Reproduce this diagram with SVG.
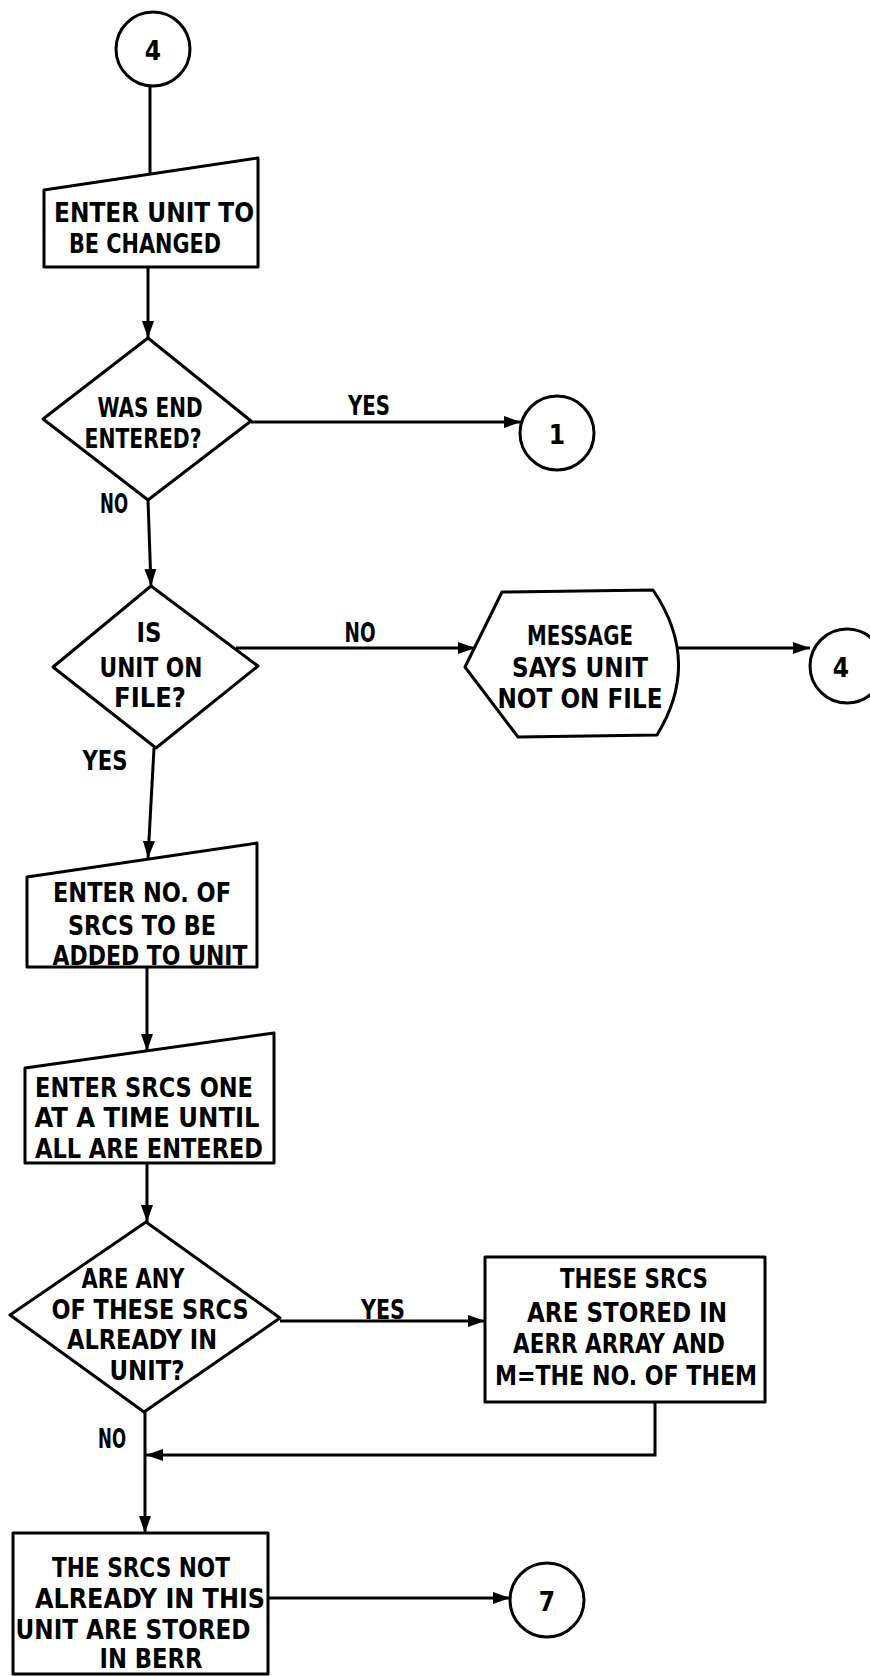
<svg xmlns="http://www.w3.org/2000/svg" width="870" height="1676" viewBox="0 0 870 1676">
<defs>
<marker id="arr" markerUnits="userSpaceOnUse" markerWidth="18" markerHeight="14" refX="17" refY="7" orient="auto">
<path d="M0,1 L17,7 L0,13 Z" fill="#000"/>
</marker>
<style>
.s{fill:#fff;stroke:#000;stroke-width:3;stroke-linejoin:round}
.c{fill:none;stroke:#000;stroke-width:3}
text{font-family:"Liberation Sans Narrow","DejaVu Sans Condensed","Liberation Sans",sans-serif;font-stretch:condensed;font-weight:bold;font-size:26px;fill:#000;text-anchor:middle}
</style>
</defs>
<rect width="870" height="1676" fill="#fff"/>
<g id="connectors">
<line class="c" x1="150" y1="87" x2="150" y2="174"/>
<line class="c" x1="148" y1="267" x2="148" y2="338" marker-end="url(#arr)"/>
<line class="c" x1="148" y1="500" x2="151" y2="586" marker-end="url(#arr)"/>
<line class="c" x1="251" y1="422" x2="521" y2="422" marker-end="url(#arr)"/>
<line class="c" x1="236" y1="648" x2="475" y2="648" marker-end="url(#arr)"/>
<line class="c" x1="677" y1="648" x2="810" y2="648" marker-end="url(#arr)"/>
<line class="c" x1="154" y1="748" x2="148" y2="858" marker-end="url(#arr)"/>
<line class="c" x1="147" y1="967" x2="147" y2="1051" marker-end="url(#arr)"/>
<line class="c" x1="147" y1="1163" x2="147" y2="1222" marker-end="url(#arr)"/>
<line class="c" x1="280" y1="1321" x2="485" y2="1321" marker-end="url(#arr)"/>
<line class="c" x1="145" y1="1412" x2="145" y2="1533" marker-end="url(#arr)"/>
<polyline class="c" points="655,1402 655,1455 146,1455" marker-end="url(#arr)"/>
<line class="c" x1="268" y1="1598" x2="510" y2="1598" marker-end="url(#arr)"/>
</g>
<g id="c4top"><circle class="s" cx="153" cy="49" r="37"/><text x="153" y="60">4</text></g>
<g id="enterUnit"><path class="s" d="M44,190 L258,158 L258,267 L44,267 Z"/>
<text x="154" y="222" textLength="200" lengthAdjust="spacingAndGlyphs">ENTER UNIT TO</text>
<text x="145" y="253" textLength="152" lengthAdjust="spacingAndGlyphs">BE CHANGED</text></g>
<g id="wasEnd"><path class="s" d="M148,338 L251,421 L148,500 L43,419 Z"/>
<text x="150" y="417" textLength="105" lengthAdjust="spacingAndGlyphs">WAS END</text>
<text x="143" y="448" textLength="117" lengthAdjust="spacingAndGlyphs">ENTERED?</text></g>
<text x="369" y="415" textLength="42" lengthAdjust="spacingAndGlyphs">YES</text>
<text x="114" y="513" textLength="28" lengthAdjust="spacingAndGlyphs">NO</text>
<g id="c1"><circle class="s" cx="557" cy="433" r="37"/><text x="557" y="444">1</text></g>
<g id="onFile"><path class="s" d="M151,586 L258,666 L156,748 L53,667 Z"/>
<text x="149" y="642" textLength="25" lengthAdjust="spacingAndGlyphs">IS</text>
<text x="151" y="677" textLength="103" lengthAdjust="spacingAndGlyphs">UNIT ON</text>
<text x="150" y="707" textLength="72" lengthAdjust="spacingAndGlyphs">FILE?</text></g>
<text x="360" y="642" textLength="31" lengthAdjust="spacingAndGlyphs">NO</text>
<text x="105" y="770" textLength="45" lengthAdjust="spacingAndGlyphs">YES</text>
<g id="message"><path class="s" d="M465,667 L502,592 L653,590 Q702,662 657,735 L518,737 Z"/>
<text x="580" y="645" textLength="106" lengthAdjust="spacingAndGlyphs">MESSAGE</text>
<text x="580" y="677" textLength="136" lengthAdjust="spacingAndGlyphs">SAYS UNIT</text>
<text x="580" y="708" textLength="165" lengthAdjust="spacingAndGlyphs">NOT ON FILE</text></g>
<g id="c4right"><circle class="s" cx="847" cy="666" r="37"/><text x="841" y="677">4</text></g>
<g id="enterNo"><path class="s" d="M27,877 L257,843 L257,967 L27,967 Z"/>
<text x="142" y="902" textLength="178" lengthAdjust="spacingAndGlyphs">ENTER NO. OF</text>
<text x="142" y="935" textLength="148" lengthAdjust="spacingAndGlyphs">SRCS TO BE</text>
<text x="150" y="965" textLength="195" lengthAdjust="spacingAndGlyphs">ADDED TO UNIT</text></g>
<g id="enterSrcs"><path class="s" d="M25,1068 L274,1033 L274,1163 L25,1163 Z"/>
<text x="144" y="1097" textLength="218" lengthAdjust="spacingAndGlyphs">ENTER SRCS ONE</text>
<text x="147" y="1127" textLength="225" lengthAdjust="spacingAndGlyphs">AT A TIME UNTIL</text>
<text x="149" y="1158" textLength="228" lengthAdjust="spacingAndGlyphs">ALL ARE ENTERED</text></g>
<g id="already"><path class="s" d="M146,1222 L280,1318 L144,1412 L10,1315 Z"/>
<text x="133" y="1288" textLength="103" lengthAdjust="spacingAndGlyphs">ARE ANY</text>
<text x="150" y="1319" textLength="197" lengthAdjust="spacingAndGlyphs">OF THESE SRCS</text>
<text x="142" y="1349" textLength="150" lengthAdjust="spacingAndGlyphs">ALREADY IN</text>
<text x="147" y="1380" textLength="75" lengthAdjust="spacingAndGlyphs">UNIT?</text></g>
<text x="383" y="1319" textLength="44" lengthAdjust="spacingAndGlyphs">YES</text>
<text x="112" y="1448" textLength="28" lengthAdjust="spacingAndGlyphs">NO</text>
<g id="aerr"><rect class="s" x="485" y="1257" width="280" height="145"/>
<text x="634" y="1288" textLength="148" lengthAdjust="spacingAndGlyphs">THESE SRCS</text>
<text x="627" y="1322" textLength="200" lengthAdjust="spacingAndGlyphs">ARE STORED IN</text>
<text x="619" y="1353" textLength="212" lengthAdjust="spacingAndGlyphs">AERR ARRAY AND</text>
<text x="626" y="1385" textLength="262" lengthAdjust="spacingAndGlyphs">M=THE NO. OF THEM</text></g>
<g id="berr"><rect class="s" x="13" y="1533" width="255" height="141"/>
<text x="141" y="1577" textLength="178" lengthAdjust="spacingAndGlyphs">THE SRCS NOT</text>
<text x="150" y="1608" textLength="230" lengthAdjust="spacingAndGlyphs">ALREADY IN THIS</text>
<text x="133" y="1639" textLength="235" lengthAdjust="spacingAndGlyphs">UNIT ARE STORED</text>
<text x="151" y="1668" textLength="103" lengthAdjust="spacingAndGlyphs">IN BERR</text></g>
<g id="c7"><circle class="s" cx="547" cy="1600" r="37"/><text x="547" y="1611">7</text></g>
</svg>
